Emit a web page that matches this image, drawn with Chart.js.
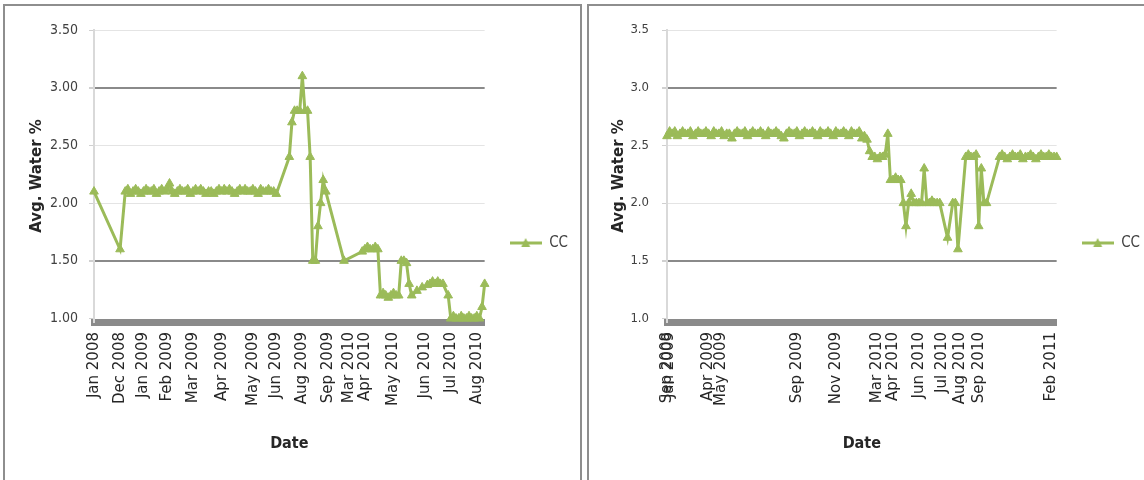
<!DOCTYPE html>
<html>
<head>
<meta charset="utf-8">
<title>Avg. Water %</title>
<script src="https://cdn.jsdelivr.net/npm/chart.js@4.4.1/dist/chart.umd.min.js"></script>
<style>
  html, body { margin: 0; padding: 0; background: #fff; }
  body { width: 1144px; height: 480px; position: relative; overflow: hidden; }
  .frame { position: absolute; top: 4px; height: 490px; box-sizing: border-box;
           border-top: 2px solid #8e8e8e; border-left: 2px solid #8e8e8e; }
  #leftFrame { left: 3px; width: 579px; border-right: 2px solid #8e8e8e; }
  #rightFrame { left: 587px; width: 560px; }
  canvas { position: absolute; top: 7px; }
  #leftChart { left: 6px; }
  #rightChart { left: 591px; }
</style>
</head>
<body>
<div class="frame" id="leftFrame"></div>
<div class="frame" id="rightFrame"></div>
<canvas id="leftChart" width="572" height="473"></canvas>
<canvas id="rightChart" width="559" height="473"></canvas>
<script>
const lineGreen = '#9bbb59';
const seriesName = 'CC';

// left panel: one slot per sample, null where nothing was recorded
const leftTickIdx = [0, 10, 19, 28, 38, 49, 61, 70, 80, 90, 98, 104, 115, 127, 137, 147];
const leftTickText = ['Jan 2008', 'Dec 2008', 'Jan 2009', 'Feb 2009', 'Mar 2009', 'Apr 2009',
  'May 2009', 'Jun 2009', 'Aug 2009', 'Sep 2009', 'Mar 2010', 'Apr 2010', 'May 2010',
  'Jun 2010', 'Jul 2010', 'Aug 2010'];
const leftValues = [
  2.1, null, null, null, null, null, null, null, null, null,
  1.6, null, 2.1, 2.12, 2.08, 2.1, 2.12, 2.1, 2.08, 2.1,
  2.12, 2.1, 2.1, 2.12, 2.08, 2.1, 2.12, 2.1, 2.12, 2.17,
  2.1, 2.08, 2.1, 2.12, 2.1, 2.1, 2.12, 2.08, 2.1, 2.12,
  2.1, 2.12, 2.1, 2.08, 2.1, 2.1, 2.08, 2.1, 2.12, 2.1,
  2.12, 2.1, 2.12, 2.1, 2.08, 2.1, 2.12, 2.1, 2.12, 2.1,
  2.1, 2.12, 2.1, 2.08, 2.12, 2.1, 2.1, 2.12, 2.1, 2.1,
  2.08, null, null, null, null, 2.4, 2.7, 2.8, 2.8, 2.8,
  3.1, 2.8, 2.8, 2.4, 1.5, 1.5, 1.8, 2.0, 2.2, 2.1,
  null, null, null, null, null, null, 1.5, null, null, null,
  null, null, null, 1.58, 1.6, 1.62, 1.6, 1.6, 1.62, 1.6,
  1.2, 1.22, 1.2, 1.18, 1.2, 1.22, 1.2, 1.2, 1.5, 1.5,
  1.48, 1.3, 1.2, null, 1.24, null, 1.27, null, 1.29, 1.3,
  1.32, 1.3, 1.32, 1.3, 1.3, null, 1.2, 1.0, 1.02, 1.0,
  1.0, 1.02, 1.0, 1.0, 1.02, 1.0, 1.0, 1.02, 1.0, 1.1,
  1.3
];

// right panel
const rightTickIdx = [0, 1, 16, 21, 50, 65, 81, 87, 97, 106, 113, 120, 148];
const rightTickText = ['Sep 2008', 'Jan 2009', 'Apr 2009', 'May 2009', 'Sep 2009', 'Nov 2009',
  'Mar 2010', 'Apr 2010', 'Jun 2010', 'Jul 2010', 'Aug 2010', 'Sep 2010', 'Feb 2011'];
const rightValues = [
  2.58, 2.62, 2.6, 2.62, 2.58, 2.6, 2.62, 2.6, 2.6, 2.62,
  2.58, 2.6, 2.62, 2.6, 2.6, 2.62, 2.6, 2.58, 2.62, 2.6,
  2.6, 2.62, 2.58, 2.6, 2.6, 2.56, 2.6, 2.62, 2.6, 2.6,
  2.62, 2.58, 2.6, 2.62, 2.6, 2.6, 2.62, 2.6, 2.58, 2.62,
  2.6, 2.6, 2.62, 2.6, 2.58, 2.56, 2.6, 2.62, 2.6, 2.6,
  2.62, 2.58, 2.6, 2.62, 2.6, 2.6, 2.62, 2.6, 2.58, 2.62,
  2.6, 2.6, 2.62, 2.6, 2.58, 2.62, 2.6, 2.6, 2.62, 2.6,
  2.58, 2.62, 2.6, 2.6, 2.62, 2.56, 2.58, 2.55, 2.45, 2.4,
  2.4, 2.38, 2.4, 2.4, 2.42, 2.6, 2.2, 2.2, 2.22, 2.2,
  2.2, 2.0, 1.8, 2.0, 2.08, 2.0, 2.0, 2.0, 2.0, 2.3,
  2.0, 2.0, 2.02, 2.0, 2.0, 2.0, null, null, 1.7, null,
  2.0, 2.0, 1.6, null, null, 2.4, 2.42, 2.4, 2.4, 2.42,
  1.8, 2.3, 2.0, 2.0, null, null, null, null, 2.4, 2.42,
  2.4, 2.38, 2.4, 2.42, 2.4, 2.4, 2.42, 2.38, 2.4, 2.4,
  2.42, 2.4, 2.38, 2.4, 2.42, 2.4, 2.4, 2.42, 2.4, 2.4,
  2.4
];

const yMin = 0.97, yMax = 3.5, yStep = 0.5;
const darkLines = [3.0, 1.5];

const narrow = "'Liberation Sans Narrow', 'DejaVu Sans Condensed', sans-serif";

function buildLabels(count, idx, text) {
  const out = new Array(count).fill('');
  idx.forEach((i, k) => { out[i] = text[k]; });
  return out;
}

// legend swatch: line with the triangle marker on it
function legendSwatch() {
  const c = document.createElement('canvas');
  c.width = 32; c.height = 12;
  const g = c.getContext('2d');
  g.strokeStyle = lineGreen; g.lineWidth = 3;
  g.beginPath(); g.moveTo(0, 6); g.lineTo(32, 6); g.stroke();
  g.fillStyle = lineGreen;
  g.beginPath(); g.moveTo(16, 1); g.lineTo(20.5, 10); g.lineTo(11.5, 10); g.closePath(); g.fill();
  return c;
}

function gridColor(ctx) {
  const v = ctx.tick ? ctx.tick.value : null;
  if (v !== null && Math.abs(v - 1) < 1e-6) return 'rgba(0,0,0,0)';
  if (darkLines.some(d => Math.abs(d - v) < 1e-6)) return '#8a8a8a';
  return '#e4e4e4';
}
function gridWidth(ctx) {
  const v = ctx.tick ? ctx.tick.value : null;
  return darkLines.some(d => Math.abs(d - v) < 1e-6) ? 2 : 1;
}

function makeChart(id, labels, values, o) {
  return new Chart(document.getElementById(id), {
    type: 'line',
    data: {
      labels: labels,
      datasets: [{
        label: seriesName,
        data: values,
        borderColor: lineGreen,
        backgroundColor: lineGreen,
        borderWidth: 3,
        pointStyle: 'triangle',
        pointRadius: 5,
        pointBorderWidth: 1,
        pointBackgroundColor: lineGreen,
        pointBorderColor: lineGreen,
        spanGaps: true,
        tension: 0,
        clip: 10
      }]
    },
    options: {
      responsive: false,
      animation: false,
      events: [],
      layout: { padding: { top: 23, bottom: 24, left: 0, right: o.padRight } },
      plugins: {
        tooltip: { enabled: false },
        legend: {
          position: 'right',
          align: 'center',
          labels: {
            usePointStyle: true,
            pointStyle: legendSwatch(),
            pointStyleWidth: 32,
            padding: 25,
            color: '#404040',
            font: { family: narrow, size: 15 }
          }
        }
      },
      scales: {
        x: {
          type: 'category',
          grid: { display: false, drawTicks: false },
          border: { display: true, color: '#8a8a8a', width: 7 },
          ticks: {
            autoSkip: false, minRotation: 90, maxRotation: 90, padding: 10,
            color: '#262626', font: { family: 'DejaVu Sans', size: 15 }
          },
          title: {
            display: true, text: 'Date', color: '#262626',
            font: { family: narrow, size: 16, weight: 'bold' },
            padding: { top: 0, bottom: 3 }
          },
          afterFit(s) { s.height = 134; }
        },
        y: {
          min: yMin, max: yMax,
          ticks: {
            stepSize: yStep, includeBounds: false, padding: o.tickPad,
            color: '#404040', font: { family: narrow, size: o.tickSize },
            callback: v => v.toFixed(o.decimals)
          },
          grid: { color: gridColor, lineWidth: gridWidth, tickColor: '#d0d0d0', tickLength: 5 },
          border: { display: true, color: '#d9d9d9', width: 2 },
          title: {
            display: true, text: 'Avg. Water %', color: '#262626',
            font: { family: 'DejaVu Sans', size: 15, weight: 'bold' },
            padding: { top: o.titlePad, bottom: 0 }
          },
          afterFit(s) { s.width = o.axisWidth; }
        }
      }
    }
  });
}

makeChart('leftChart', buildLabels(leftValues.length, leftTickIdx, leftTickText), leftValues,
  { decimals: 2, axisWidth: 88, tickPad: 11, tickSize: 14, titlePad: 22, padRight: 0 });
makeChart('rightChart', buildLabels(rightValues.length, rightTickIdx, rightTickText), rightValues,
  { decimals: 1, axisWidth: 76, tickPad: 13, tickSize: 13, titlePad: 19, padRight: 0 });
</script>
</body>
</html>
